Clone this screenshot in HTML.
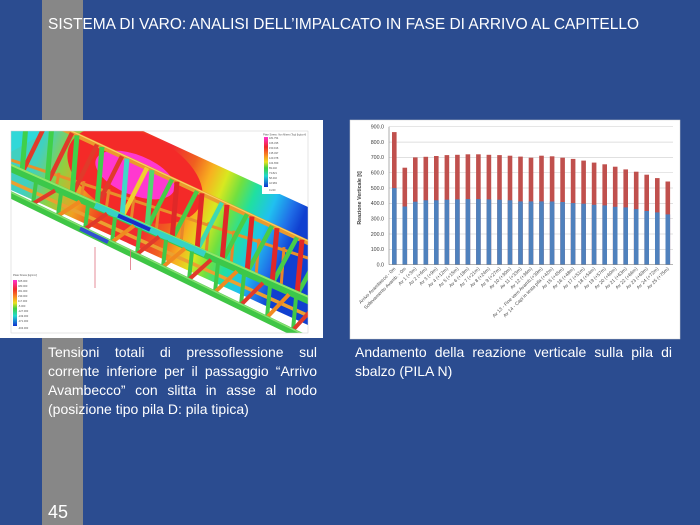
<!DOCTYPE html>
<html><head><meta charset="utf-8">
<style>
html,body{margin:0;padding:0;background:#2b4c90;}
#wrap{position:relative;width:700px;height:525px;overflow:hidden;}
svg{position:absolute;left:0;top:0;}
.cap{position:absolute;color:#fff;font-family:"Liberation Sans",sans-serif;font-size:14px;line-height:19px;}
.j{text-align:justify;text-align-last:justify;}
</style></head>
<body><div id="wrap">
<svg width="700" height="525" viewBox="0 0 700 525" xmlns="http://www.w3.org/2000/svg">
<defs>
<clipPath id="fem"><rect x="11" y="131" width="297" height="202"/></clipPath>
<clipPath id="plane"><polygon points="11,131 143,131 308,207 308,325 11,190"/></clipPath>
<linearGradient id="pg" gradientUnits="userSpaceOnUse" x1="40" y1="150" x2="290" y2="250">
<stop offset="0" stop-color="#40d0c0"/><stop offset="0.1" stop-color="#90d040"/>
<stop offset="0.2" stop-color="#f0a020"/><stop offset="0.3" stop-color="#f04020"/>
<stop offset="0.45" stop-color="#f02a30"/><stop offset="0.55" stop-color="#f06020"/>
<stop offset="0.62" stop-color="#f8b020"/><stop offset="0.68" stop-color="#d8e820"/>
<stop offset="0.74" stop-color="#70e040"/><stop offset="0.8" stop-color="#20e0a0"/>
<stop offset="0.88" stop-color="#20c0f0"/><stop offset="0.95" stop-color="#2070e8"/>
<stop offset="1" stop-color="#1040d0"/></linearGradient>
<linearGradient id="lg" x1="0" y1="0" x2="0" y2="1">
<stop offset="0" stop-color="#ff30d0"/><stop offset="0.2" stop-color="#f02828"/>
<stop offset="0.4" stop-color="#f8a020"/><stop offset="0.5" stop-color="#e8e020"/>
<stop offset="0.62" stop-color="#40d040"/><stop offset="0.78" stop-color="#20d8d0"/>
<stop offset="1" stop-color="#1030d0"/></linearGradient>
</defs>
<rect width="700" height="525" fill="#2b4c90"/>
<rect x="42" y="0" width="41" height="525" fill="#878787"/>
<text x="48" y="29" fill="#fff" font-family="Liberation Sans, sans-serif" font-size="16" textLength="591" lengthAdjust="spacingAndGlyphs">SISTEMA DI VARO: ANALISI DELL’IMPALCATO IN FASE DI ARRIVO AL CAPITELLO</text>

<!-- left panel -->
<rect x="0" y="120" width="323" height="218" fill="#fff"/>
<g clip-path="url(#fem)">
<rect x="11" y="131" width="297" height="202" fill="#fff"/>
<polygon points="11,131 143,131 308,207 308,325 11,190" fill="url(#pg)"/>
<g clip-path="url(#plane)">
<ellipse cx="135" cy="175" rx="72" ry="42" transform="rotate(25 135 175)" fill="#f42a28"/>
<ellipse cx="135" cy="175" rx="42" ry="20" transform="rotate(22 135 175)" fill="#ff38d0"/>
<polygon points="11,131 48,131 11,152" fill="#30d8d8"/>
</g>
<!-- upper chord -->
<line x1="11" y1="104.7" x2="320" y2="248.1" stroke="#eb9a2c" stroke-width="5"/>
<line x1="11" y1="103" x2="320" y2="246.4" stroke="#f8d060" stroke-width="1.2"/>
<line x1="11" y1="160" x2="320" y2="262" stroke="#e8902a" stroke-width="3"/>
<!-- far posts -->
<g stroke="#e8862a" stroke-width="3">
<line x1="59" y1="172.8" x2="56" y2="188"/><line x1="84" y1="181.1" x2="81" y2="199.1"/>
<line x1="109" y1="189.3" x2="106" y2="210.2"/><line x1="134" y1="197.6" x2="131" y2="221.3"/>
<line x1="159" y1="205.8" x2="156" y2="232.4"/><line x1="184" y1="214.1" x2="181" y2="243.5"/>
<line x1="209" y1="222.3" x2="206" y2="254.6"/><line x1="234" y1="230.6" x2="231" y2="265.7"/>
<line x1="259" y1="238.8" x2="256" y2="276.8"/><line x1="284" y1="247.1" x2="281" y2="287.9"/>
</g>
<!-- diagonals -->
<g stroke-width="4.5">
<line x1="22" y1="172.9" x2="47" y2="121.4" stroke="#e03a2a"/>
<line x1="47" y1="184" x2="72" y2="133" stroke="#e03a2a"/>
<line x1="72" y1="195.1" x2="97" y2="144.6" stroke="#e03a2a"/>
<line x1="97" y1="206.2" x2="122" y2="156.2" stroke="#e03a2a"/>
<line x1="122" y1="217.3" x2="147" y2="167.8" stroke="#f0d030"/>
<line x1="147" y1="228.4" x2="172" y2="179.4" stroke="#48cc48"/>
<line x1="172" y1="239.5" x2="197" y2="191" stroke="#48cc48"/>
<line x1="197" y1="250.6" x2="222" y2="202.6" stroke="#40d8b0"/>
<line x1="222" y1="261.7" x2="247" y2="214.2" stroke="#48cc48"/>
<line x1="247" y1="272.7" x2="272" y2="225.8" stroke="#48cc48"/>
<line x1="272" y1="283.9" x2="297" y2="237.4" stroke="#48cc48"/>
<line x1="297" y1="295" x2="322" y2="249" stroke="#48cc48"/>
</g>
<!-- posts -->
<g stroke-width="5">
<line x1="27" y1="112.1" x2="22" y2="172.9" stroke="#3fd04a"/>
<line x1="52" y1="123.7" x2="47" y2="184" stroke="#3fd04a"/>
<line x1="77" y1="135.3" x2="72" y2="195.1" stroke="#3fd04a"/>
<line x1="102" y1="146.9" x2="97" y2="206.2" stroke="#3fd04a"/>
<line x1="127" y1="158.5" x2="122" y2="217.3" stroke="#40d8c8"/>
<line x1="152" y1="170.1" x2="147" y2="228.4" stroke="#50d870"/>
<line x1="177" y1="181.7" x2="172" y2="239.5" stroke="#e02828"/>
<line x1="202" y1="193.3" x2="197" y2="250.6" stroke="#e02828"/>
<line x1="227" y1="204.9" x2="222" y2="261.7" stroke="#e02828"/>
<line x1="252" y1="216.5" x2="247" y2="272.7" stroke="#e02828"/>
<line x1="277" y1="228.1" x2="272" y2="283.9" stroke="#e02828"/>
<line x1="302" y1="239.7" x2="297" y2="295" stroke="#e02828"/>
</g>
<!-- main green chord -->
<line x1="0" y1="163.1" x2="320" y2="305.2" stroke="#3cc84a" stroke-width="8"/>
<line x1="0" y1="160" x2="320" y2="302" stroke="#8ee66a" stroke-width="2"/>
<line x1="95" y1="205.3" x2="205" y2="254.1" stroke="#36d2c4" stroke-width="6"/>
<line x1="118" y1="215.5" x2="150" y2="229.7" stroke="#1a2ec8" stroke-width="4"/>
<!-- lower orange chord -->
<line x1="0" y1="177" x2="320" y2="321" stroke="#eba030" stroke-width="3.5"/>
<!-- lower members -->
<g stroke-width="4">
<line x1="36" y1="182.1" x2="33" y2="203.7" stroke="#40c848"/><line x1="33" y1="203.7" x2="55" y2="190.5" stroke="#e03a2a"/>
<line x1="61" y1="193.2" x2="58" y2="215.8" stroke="#40c848"/><line x1="58" y1="215.8" x2="80" y2="201.6" stroke="#f08a20"/>
<line x1="88" y1="205.2" x2="85" y2="229" stroke="#40c848"/><line x1="85" y1="229" x2="107" y2="213.6" stroke="#e03a2a"/>
<line x1="115" y1="217.2" x2="112" y2="242.1" stroke="#40c848"/><line x1="112" y1="242.1" x2="134" y2="225.6" stroke="#f08a20"/>
<line x1="140" y1="228.3" x2="137" y2="254.2" stroke="#40c848"/><line x1="137" y1="254.2" x2="159" y2="236.7" stroke="#e03a2a"/>
<line x1="166" y1="239.8" x2="163" y2="266.9" stroke="#40c848"/><line x1="163" y1="266.9" x2="185" y2="248.3" stroke="#f08a20"/>
<line x1="192" y1="251.4" x2="189" y2="279.5" stroke="#40c848"/><line x1="189" y1="279.5" x2="211" y2="259.8" stroke="#e03a2a"/>
<line x1="218" y1="262.9" x2="215" y2="292.1" stroke="#40c848"/><line x1="215" y1="292.1" x2="237" y2="271.3" stroke="#f08a20"/>
<line x1="244" y1="274.5" x2="241" y2="304.8" stroke="#40c848"/><line x1="241" y1="304.8" x2="263" y2="282.9" stroke="#e03a2a"/>
<line x1="270" y1="286" x2="267" y2="317.4" stroke="#40c848"/><line x1="267" y1="317.4" x2="289" y2="294.4" stroke="#f08a20"/>
<line x1="296" y1="297.5" x2="293" y2="330" stroke="#40c848"/><line x1="293" y1="330" x2="315" y2="306" stroke="#e03a2a"/>
</g>
<line x1="0" y1="189.7" x2="320" y2="345.2" stroke="#3fc645" stroke-width="7"/>
<line x1="0" y1="187" x2="320" y2="342.5" stroke="#86e070" stroke-width="1.5"/>
<line x1="80" y1="228.5" x2="108" y2="242.1" stroke="#3050d0" stroke-width="4"/>
<!-- supports -->
<line x1="95" y1="247" x2="95" y2="288" stroke="#e07080" stroke-width="0.8"/>
<line x1="130.5" y1="250" x2="130.5" y2="270" stroke="#e07080" stroke-width="0.8"/>
<!-- legend TR -->
<rect x="262" y="131" width="46" height="63" fill="#fff"/>
<text x="263" y="135.5" font-family="Liberation Sans, sans-serif" font-size="2.6" fill="#555" textLength="43" lengthAdjust="spacingAndGlyphs">Plate Stress: Von Mises (Top) [kg/cm²]</text>
<rect x="264" y="137" width="4" height="50" fill="url(#lg)"/>
<g font-family="Liberation Sans, sans-serif" font-size="2.6" fill="#555">
<text x="269" y="139">181.754</text><text x="269" y="144">166.335</text><text x="269" y="149">150.916</text>
<text x="269" y="154">135.497</text><text x="269" y="159">120.078</text><text x="269" y="164">104.659</text>
<text x="269" y="169">89.240</text><text x="269" y="174">73.821</text><text x="269" y="179">58.402</text>
<text x="269" y="184">42.983</text><text x="269" y="191">0.240</text></g>
<!-- legend BL -->
<rect x="12" y="272" width="48" height="60" fill="#fff"/>
<text x="13" y="276" font-family="Liberation Sans, sans-serif" font-size="2.6" fill="#555">Plate Stress [kg/cm²]</text>
<rect x="13" y="280" width="4" height="46" fill="url(#lg)"/>
<g font-family="Liberation Sans, sans-serif" font-size="2.6" fill="#555">
<text x="18" y="282">605.000</text><text x="18" y="287">483.000</text><text x="18" y="292">361.000</text>
<text x="18" y="297">239.000</text><text x="18" y="302">117.000</text><text x="18" y="307">-5.000</text>
<text x="18" y="312">-127.000</text><text x="18" y="317">-249.000</text><text x="18" y="322">-371.000</text>
<text x="18" y="329">-493.000</text></g>
</g>
<rect x="11" y="131" width="297" height="202" fill="none" stroke="#ccc" stroke-width="0.5"/>

<!-- right panel chart -->
<rect x="350" y="120" width="330" height="219" fill="#fff" stroke="#d0d0d0" stroke-width="0.5"/>
<g stroke="#d6d6d6" stroke-width="0.7">
<line x1="389" y1="249.4" x2="673" y2="249.4"/><line x1="389" y1="234" x2="673" y2="234"/>
<line x1="389" y1="218.7" x2="673" y2="218.7"/><line x1="389" y1="203.4" x2="673" y2="203.4"/>
<line x1="389" y1="188" x2="673" y2="188"/><line x1="389" y1="172.7" x2="673" y2="172.7"/>
<line x1="389" y1="157.4" x2="673" y2="157.4"/><line x1="389" y1="142.1" x2="673" y2="142.1"/>
<line x1="389" y1="126.7" x2="673" y2="126.7"/>
</g>
<g font-family="Liberation Sans, sans-serif" font-size="5.3" fill="#404040" text-anchor="end">
<text x="384" y="266.5">0.0</text><text x="384" y="251.2">100.0</text><text x="384" y="235.8">200.0</text>
<text x="384" y="220.5">300.0</text><text x="384" y="205.2">400.0</text><text x="384" y="189.8">500.0</text>
<text x="384" y="174.5">600.0</text><text x="384" y="159.2">700.0</text><text x="384" y="143.9">800.0</text>
<text x="384" y="128.5">900.0</text></g>
<text x="0" y="0" transform="translate(361 198) rotate(-90)" font-family="Liberation Sans, sans-serif" font-size="5.3" font-weight="bold" fill="#404040" text-anchor="middle">Reazione Verticale [t]</text>
<g fill="#c0504d">
<rect x="392" y="132.1" width="4.6" height="132.6"/><rect x="402.5" y="167.7" width="4.6" height="97"/>
<rect x="413" y="157.4" width="4.6" height="107.3"/><rect x="423.5" y="156.8" width="4.6" height="107.9"/>
<rect x="434" y="156" width="4.6" height="108.7"/><rect x="444.6" y="155.1" width="4.6" height="109.6"/>
<rect x="455.1" y="154.8" width="4.6" height="109.9"/><rect x="465.6" y="154.3" width="4.6" height="110.4"/>
<rect x="476.1" y="154.3" width="4.6" height="110.4"/><rect x="486.6" y="154.8" width="4.6" height="109.9"/>
<rect x="497.2" y="155.1" width="4.6" height="109.6"/><rect x="507.7" y="155.7" width="4.6" height="109"/>
<rect x="518.2" y="156.6" width="4.6" height="108.1"/><rect x="528.7" y="157.7" width="4.6" height="107"/>
<rect x="539.2" y="155.7" width="4.6" height="109"/><rect x="549.8" y="156.3" width="4.6" height="108.4"/>
<rect x="560.3" y="157.7" width="4.6" height="107"/><rect x="570.8" y="158.9" width="4.6" height="105.8"/>
<rect x="581.3" y="160.6" width="4.6" height="104.1"/><rect x="591.8" y="162.6" width="4.6" height="102.1"/>
<rect x="602.4" y="164.3" width="4.6" height="100.4"/><rect x="612.9" y="166.7" width="4.6" height="98"/>
<rect x="623.4" y="169.4" width="4.6" height="95.3"/><rect x="633.9" y="171.7" width="4.6" height="93"/>
<rect x="644.4" y="174.7" width="4.6" height="90"/><rect x="655" y="178.1" width="4.6" height="86.6"/>
<rect x="665.5" y="181.5" width="4.6" height="83.2"/>
</g>
<g fill="#4f81bd">
<rect x="392" y="188.1" width="4.6" height="76.6"/><rect x="402.5" y="206.5" width="4.6" height="58.2"/>
<rect x="413" y="201.7" width="4.6" height="63"/><rect x="423.5" y="200.3" width="4.6" height="64.4"/>
<rect x="434" y="200.3" width="4.6" height="64.4"/><rect x="444.6" y="199.7" width="4.6" height="65"/>
<rect x="455.1" y="199.4" width="4.6" height="65.3"/><rect x="465.6" y="199.1" width="4.6" height="65.6"/>
<rect x="476.1" y="199.1" width="4.6" height="65.6"/><rect x="486.6" y="199.4" width="4.6" height="65.3"/>
<rect x="497.2" y="199.7" width="4.6" height="65"/><rect x="507.7" y="200.3" width="4.6" height="64.4"/>
<rect x="518.2" y="201.4" width="4.6" height="63.3"/><rect x="528.7" y="201.4" width="4.6" height="63.3"/>
<rect x="539.2" y="201.4" width="4.6" height="63.3"/><rect x="549.8" y="201.5" width="4.6" height="63.2"/>
<rect x="560.3" y="202" width="4.6" height="62.7"/><rect x="570.8" y="203.1" width="4.6" height="61.6"/>
<rect x="581.3" y="203.7" width="4.6" height="61"/><rect x="591.8" y="204.8" width="4.6" height="59.9"/>
<rect x="602.4" y="205.4" width="4.6" height="59.3"/><rect x="612.9" y="206.8" width="4.6" height="57.9"/>
<rect x="623.4" y="207.4" width="4.6" height="57.3"/><rect x="633.9" y="209.1" width="4.6" height="55.6"/>
<rect x="644.4" y="211" width="4.6" height="53.7"/><rect x="655" y="212.4" width="4.6" height="52.3"/>
<rect x="665.5" y="214.4" width="4.6" height="50.3"/>
</g>
<line x1="389" y1="126.7" x2="389" y2="264.7" stroke="#8a8a8a" stroke-width="0.7"/>
<line x1="389" y1="264.7" x2="673" y2="264.7" stroke="#8a8a8a" stroke-width="0.7"/>
<g font-family="Liberation Sans, sans-serif" font-size="4.8" fill="#505050" text-anchor="end">
<text transform="translate(395.8 269) rotate(-45)">Arrivo Avambecco - 0m</text>
<text transform="translate(406.3 269) rotate(-45)">Sollevamento Avamb. - 0m</text>
<text transform="translate(416.8 269) rotate(-45)">Av 1 (+3m)</text>
<text transform="translate(427.3 269) rotate(-45)">Av 2 (+6m)</text>
<text transform="translate(437.8 269) rotate(-45)">Av 3 (+9m)</text>
<text transform="translate(448.4 269) rotate(-45)">Av 4 (+12m)</text>
<text transform="translate(458.9 269) rotate(-45)">Av 5 (+15m)</text>
<text transform="translate(469.4 269) rotate(-45)">Av 6 (+18m)</text>
<text transform="translate(479.9 269) rotate(-45)">Av 7 (+21m)</text>
<text transform="translate(490.4 269) rotate(-45)">Av 8 (+24m)</text>
<text transform="translate(501 269) rotate(-45)">Av 9 (+27m)</text>
<text transform="translate(511.5 269) rotate(-45)">Av 10 (+30m)</text>
<text transform="translate(522 269) rotate(-45)">Av 11 (+33m)</text>
<text transform="translate(532.5 269) rotate(-45)">Av 12 (+36m)</text>
<text transform="translate(543 269) rotate(-45)">Av 13 - Fine varo Avamb.(+39m)</text>
<text transform="translate(553.6 269) rotate(-45)">Av 14 - Capi in testa pila (+42m)</text>
<text transform="translate(564.1 269) rotate(-45)">Av 15 (+45m)</text>
<text transform="translate(574.6 269) rotate(-45)">Av 16 (+48m)</text>
<text transform="translate(585.1 269) rotate(-45)">Av 17 (+51m)</text>
<text transform="translate(595.6 269) rotate(-45)">Av 18 (+54m)</text>
<text transform="translate(606.2 269) rotate(-45)">Av 19 (+57m)</text>
<text transform="translate(616.7 269) rotate(-45)">Av 20 (+60m)</text>
<text transform="translate(627.2 269) rotate(-45)">Av 21 (+63m)</text>
<text transform="translate(637.7 269) rotate(-45)">Av 22 (+66m)</text>
<text transform="translate(648.2 269) rotate(-45)">Av 23 (+69m)</text>
<text transform="translate(658.8 269) rotate(-45)">Av 24 (+72m)</text>
<text transform="translate(669.3 269) rotate(-45)">Av 25 (+75m)</text>
</g>
<text x="48" y="518" fill="#fff" font-family="Liberation Sans, sans-serif" font-size="18">45</text>
</svg>
<div class="cap" style="left:48px;top:343px;width:269px;">
<div class="j">Tensioni totali di pressoflessione sul</div>
<div class="j">corrente inferiore per il passaggio “Arrivo</div>
<div class="j">Avambecco” con slitta in asse al nodo</div>
<div>(posizione tipo pila D: pila tipica)</div>
</div>
<div class="cap" style="left:355px;top:343px;width:317px;">
<div class="j">Andamento della reazione verticale sulla pila di</div>
<div>sbalzo (PILA N)</div>
</div>
</div></body></html>
